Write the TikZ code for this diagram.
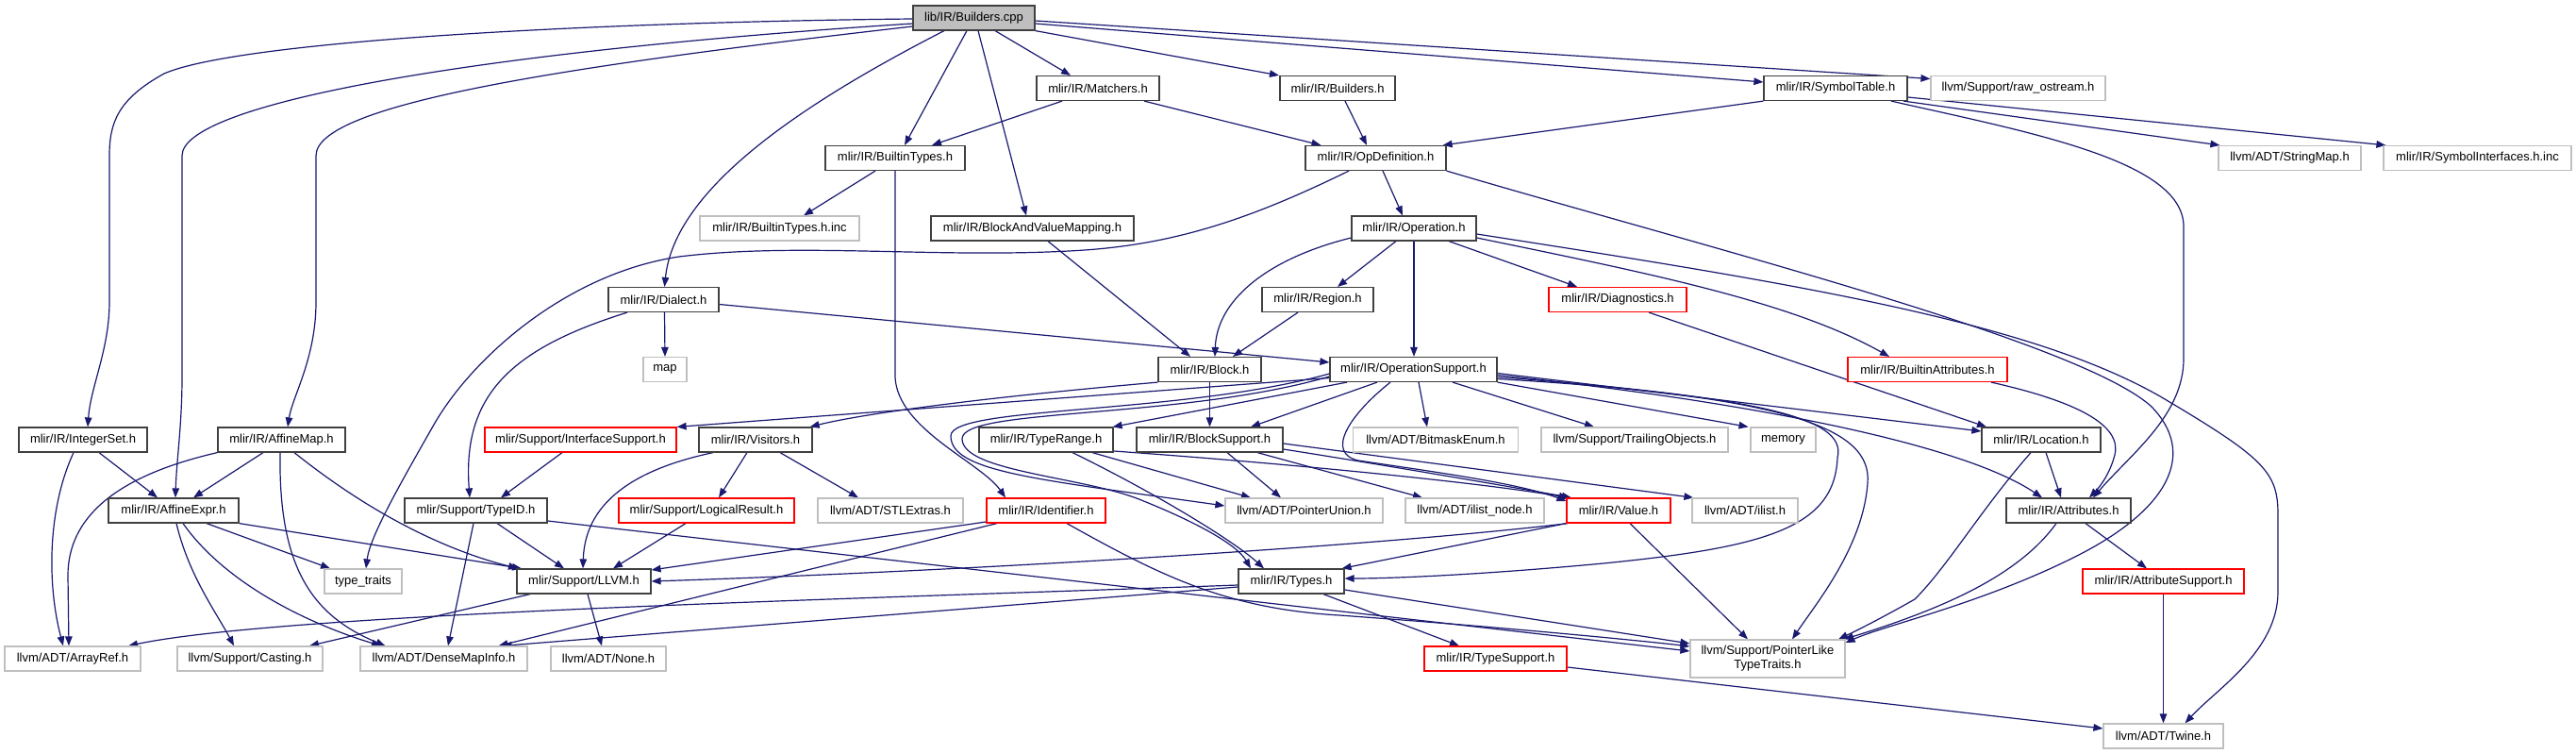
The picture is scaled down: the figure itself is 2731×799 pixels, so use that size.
\documentclass[tikz,border=0pt]{standalone}
\usepackage{fontspec}
\setmainfont{Liberation Sans}
\usetikzlibrary{arrows.meta}
\definecolor{edgeblue}{HTML}{191970}
\definecolor{nodeblack}{HTML}{404040}
\definecolor{nodegray}{HTML}{BFBFBF}
\definecolor{nodered}{HTML}{FF0000}
\definecolor{rootgray}{HTML}{BFBFBF}
\newcommand\dxfont{\fontsize{13}{15}\selectfont}
\pgfdeclarelayer{bg}
\pgfsetlayers{bg,main}
\tikzset{
  nbase/.style={rectangle, inner sep=0pt, minimum height=26pt, font=\dxfont, text=black, line width=1.2pt, fill=white},
  nb/.style={nbase, draw=nodeblack},
  ng/.style={nbase, draw=nodegray},
  nr/.style={nbase, draw=nodered},
  rootnode/.style={nbase, draw=nodeblack, fill=rootgray},
  e/.style={draw=edgeblue, line width=1.2pt, -{Triangle[length=10pt,width=7.5pt]}},
}
\begin{document}
\begin{tikzpicture}[x=1pt,y=-1pt]
\useasboundingbox (0,0) rectangle (2731,799);
% nodes
\node[rootnode, minimum width=129pt] (cpp) at (1032.5,19) {lib/IR/Builders.cpp};
\node[nb, minimum width=130pt] (matchers) at (1164,93.5) {mlir/IR/Matchers.h};
\node[nb, minimum width=122pt] (buildersh) at (1418,93.5) {mlir/IR/Builders.h};
\node[nb, minimum width=152pt] (symtab) at (1946,93.5) {mlir/IR/SymbolTable.h};
\node[ng, minimum width=185pt] (rawos) at (2139.5,93.5) {llvm/Support/raw\_ostream.h};
\node[nb, minimum width=148pt] (bt) at (949,167.5) {mlir/IR/BuiltinTypes.h};
\node[nb, minimum width=149pt] (opdef) at (1458.5,167.5) {mlir/IR/OpDefinition.h};
\node[ng, minimum width=151pt] (strmap) at (2427.5,167.5) {llvm/ADT/StringMap.h};
\node[ng, minimum width=199pt] (syminc) at (2626.5,167.5) {mlir/IR/SymbolInterfaces.h.inc};
\node[ng, minimum width=169pt] (btinc) at (826.5,242) {mlir/IR/BuiltinTypes.h.inc};
\node[nb, minimum width=215pt] (bavm) at (1094.5,242) {mlir/IR/BlockAndValueMapping.h};
\node[nb, minimum width=132pt] (operation) at (1499,242) {mlir/IR/Operation.h};
\node[nb, minimum width=117pt] (dialect) at (703.5,317.5) {mlir/IR/Dialect.h};
\node[nb, minimum width=118pt] (region) at (1397,317.5) {mlir/IR/Region.h};
\node[nr, minimum width=146pt] (diag) at (1715,317.5) {mlir/IR/Diagnostics.h};
\node[ng, minimum width=46pt] (map) at (705,391.5) {map};
\node[nb, minimum width=109pt] (block) at (1282.5,391.5) {mlir/IR/Block.h};
\node[nb, minimum width=177pt] (opsup) at (1498.5,391.5) {mlir/IR/OperationSupport.h};
\node[nr, minimum width=169pt] (battr) at (2043.5,391.5) {mlir/IR/BuiltinAttributes.h};
\node[nb, minimum width=136pt] (intset) at (88,466) {mlir/IR/IntegerSet.h};
\node[nb, minimum width=135pt] (affmap) at (298.5,466) {mlir/IR/AffineMap.h};
\node[nr, minimum width=203pt] (ifsup) at (615.5,466) {mlir/Support/InterfaceSupport.h};
\node[nb, minimum width=120pt] (visitors) at (801,466) {mlir/IR/Visitors.h};
\node[nb, minimum width=142pt] (typerange) at (1109,466) {mlir/IR/TypeRange.h};
\node[nb, minimum width=155pt] (blocksup) at (1282.5,466) {mlir/IR/BlockSupport.h};
\node[ng, minimum width=175pt] (bitmask) at (1522,466) {llvm/ADT/BitmaskEnum.h};
\node[ng, minimum width=198pt] (trailing) at (1733,466) {llvm/Support/TrailingObjects.h};
\node[ng, minimum width=69pt] (memory) at (1890.5,466) {memory};
\node[nb, minimum width=126pt] (location) at (2164,466) {mlir/IR/Location.h};
\node[nb, minimum width=138pt] (affexpr) at (184,541) {mlir/IR/AffineExpr.h};
\node[nb, minimum width=151pt] (typeid) at (504.5,541) {mlir/Support/TypeID.h};
\node[nr, minimum width=186pt] (logres) at (749,541) {mlir/Support/LogicalResult.h};
\node[ng, minimum width=154pt] (stl) at (944,541) {llvm/ADT/STLExtras.h};
\node[nr, minimum width=126pt] (ident) at (1109,541) {mlir/IR/Identifier.h};
\node[ng, minimum width=167pt] (ptrunion) at (1382.5,541) {llvm/ADT/PointerUnion.h};
\node[ng, minimum width=147pt] (ilistnode) at (1563.5,541) {llvm/ADT/ilist\_node.h};
\node[nr, minimum width=110pt] (value) at (1716,541) {mlir/IR/Value.h};
\node[ng, minimum width=112pt] (ilist) at (1850,541) {llvm/ADT/ilist.h};
\node[nb, minimum width=132pt] (attrs) at (2193,541) {mlir/IR/Attributes.h};
\node[ng, minimum width=82pt] (typetraits) at (385,616) {type\_traits};
\node[nb, minimum width=142pt] (llvm) at (619,616) {mlir/Support/LLVM.h};
\node[nb, minimum width=112pt] (types) at (1369,616) {mlir/IR/Types.h};
\node[nr, minimum width=171pt] (attrsup) at (2293.5,616) {mlir/IR/AttributeSupport.h};
\node[ng, minimum width=144pt] (arrayref) at (77,698) {llvm/ADT/ArrayRef.h};
\node[ng, minimum width=154pt] (casting) at (265,698) {llvm/Support/Casting.h};
\node[ng, minimum width=177pt] (densemap) at (470.5,698) {llvm/ADT/DenseMapInfo.h};
\node[ng, minimum width=122pt] (none) at (645,698) {llvm/ADT/None.h};
\node[nr, minimum width=151pt] (typesup) at (1585.5,698) {mlir/IR/TypeSupport.h};
\node[ng, minimum width=164pt, minimum height=40pt, align=center] (pltt) at (1874,698) {llvm/Support/PointerLike\\TypeTraits.h};
\node[ng, minimum width=127pt] (twine) at (2293.5,780) {llvm/ADT/Twine.h};

\begin{pgfonlayer}{bg}
\fill[white] (0,0) rectangle (2731,799);
% Builders.cpp
\draw[e] ([yshift=-1pt]cpp.west) .. controls (600,24) and (250,45) .. (174,78) .. controls (125,105) and (116,130) .. (116,165) -- (116,320) .. controls (116,370) and (96,410) .. ([xshift=5pt]intset.north);
\draw[e] ([yshift=-6pt]cpp.west) .. controls (500,55) and (193,110) .. (193,165) -- (193,400) .. controls (193,450) and (187,490) .. ([xshift=2pt]affexpr.north);
\draw[e] ([yshift=-9pt]cpp.west) .. controls (600,70) and (335,110) .. (335,165) -- (335,320) .. controls (335,380) and (310,420) .. ([xshift=6.5pt]affmap.north);
\draw[e] ([xshift=-31.5pt]cpp.south) .. controls (850,110) and (715,200) .. ([xshift=1pt]dialect.north);
\draw[e] ([xshift=-7.5pt]cpp.south) -- ([xshift=10pt]bt.north);
\draw[e] ([xshift=4.5pt]cpp.south) -- ([xshift=-6.5pt]bavm.north);
\draw[e] ([xshift=22.5pt]cpp.south) -- ([xshift=-29pt]matchers.north);
\draw[e] (cpp.south east) -- ([xshift=-62pt]buildersh.north);
\draw[e] ([yshift=-6pt]cpp.east) -- ([yshift=6.5pt]symtab.west);
\draw[e] ([yshift=-3pt]cpp.east) -- ([yshift=10pt]rawos.west);
% Matchers, Builders.h, SymbolTable
\draw[e] ([xshift=-38pt]matchers.south) -- ([xshift=39pt]bt.north);
\draw[e] ([xshift=49pt]matchers.south) -- ([xshift=-58pt]opdef.north);
\draw[e] ([xshift=8pt]buildersh.south) -- ([xshift=-9.5pt]opdef.north);
\draw[e] (symtab.south west) -- ([xshift=-4pt]opdef.north east);
\draw[e] ([xshift=72pt]symtab.south) -- ([xshift=2pt]strmap.north west);
\draw[e] ([yshift=-9.5pt]symtab.east) -- ([xshift=3pt]syminc.north west);
\draw[e] ([xshift=59pt]symtab.south) .. controls (2150,140) and (2315,170) .. (2315,240) -- (2315,380) .. controls (2315,440) and (2260,480) .. ([xshift=26pt]attrs.north);
% BuiltinTypes
\draw[e] ([xshift=-21pt]bt.south) -- ([xshift=25.5pt]btinc.north);
\draw[e] (bt.south) -- (949,400) .. controls (952,455) and (1040,490) .. ([xshift=-43pt]ident.north);
% BlockAndValueMapping
\draw[e] ([xshift=16.5pt]bavm.south) -- ([xshift=-20.5pt]block.north);
% OpDefinition
\draw[e] ([xshift=7.5pt]opdef.south) -- ([xshift=-12pt]operation.north);
\draw[e] ([xshift=-28.5pt]opdef.south) .. controls (1330,230) and (1250,258) .. (1150,265) .. controls (1000,275) and (850,256) .. (720,272) .. controls (600,290) and (500,380) .. (460,450) .. controls (420,520) and (392,570) .. ([xshift=3pt]typetraits.north);
\draw[e] (opdef.south east) .. controls (1800,260) and (2200,360) .. (2280,430) .. controls (2330,480) and (2300,540) .. (2200,590) .. controls (2100,640) and (2000,662) .. ([yshift=17pt]pltt.east);
% Operation
\draw[e] ([yshift=-10pt]operation.west) .. controls (1340,275) and (1290,320) .. ([xshift=5.5pt]block.north);
\draw[e] ([xshift=-19pt]operation.south) -- ([xshift=21pt]region.north);
\draw[e] (operation.south) -- ([xshift=0.5pt]opsup.north);
\draw[e] ([xshift=37pt]operation.south) -- ([xshift=-43pt]diag.north);
\draw[e] ([yshift=-10pt]operation.east) .. controls (1750,290) and (1900,320) .. ([xshift=-40.5pt]battr.north);
\draw[e] ([yshift=-6pt]operation.east) .. controls (1900,300) and (2150,340) .. (2290,420) .. controls (2400,485) and (2415,500) .. (2415,545) -- (2415,627) .. controls (2415,690) and (2350,730) .. ([xshift=23pt]twine.north);
% Region, Diagnostics, Dialect
\draw[e] ([xshift=-21pt]region.south) -- ([xshift=24.5pt]block.north);
\draw[e] ([xshift=33pt]diag.south) -- ([xshift=-58pt]location.north);
\draw[e] ([xshift=1pt]dialect.south) -- (map.north);
\draw[e] ([yshift=-5pt]dialect.east) -- ([yshift=7.5pt]opsup.west);
\draw[e] ([xshift=-38.5pt]dialect.south) .. controls (540,370) and (490,420) .. ([xshift=-6.5pt]typeid.north);
% Block
\draw[e] (block.south) -- (blocksup.north);
\draw[e] (block.south west) .. controls (1000,425) and (900,442) .. ([xshift=-3pt]visitors.north east);
% OperationSupport
\draw[e] ([yshift=-9pt]opsup.west) -- (ifsup.north east);
\draw[e] ([yshift=-4.5pt]opsup.west) .. controls (1250,440) and (1008,430) .. (1008,462) .. controls (1008,500) and (1100,508) .. ([yshift=5pt]ptrunion.west);
\draw[e] ([yshift=-7.5pt]opsup.west) .. controls (1250,445) and (1020,432) .. (1020,465) .. controls (1020,500) and (1150,505) .. (1210,530) .. controls (1260,550) and (1310,575) .. ([xshift=-43pt]types.north);
\draw[e] ([xshift=-70.5pt]opsup.south) -- ([xshift=-1pt]typerange.north east);
\draw[e] ([xshift=-38.5pt]opsup.south) -- ([xshift=43.5pt]blocksup.north);
\draw[e] ([xshift=-24.5pt]opsup.south) .. controls (1430,440) and (1405,480) .. (1440,488) .. controls (1520,500) and (1610,512) .. ([yshift=10pt]value.west);
\draw[e] ([xshift=5.5pt]opsup.south) -- ([xshift=-9pt]bitmask.north);
\draw[e] ([xshift=41.5pt]opsup.south) -- ([xshift=-43pt]trailing.north);
\draw[e] (opsup.south east) -- ([xshift=-37pt]memory.north);
\draw[e] ([yshift=-4pt]opsup.east) -- ([yshift=9pt]location.west);
\draw[e] ([yshift=-6pt]opsup.east) .. controls (1850,425) and (2080,470) .. ([xshift=-28pt]attrs.north);
\draw[e] ([yshift=-8pt]opsup.east) .. controls (1850,420) and (1960,440) .. (1948,485) .. controls (1945,560) and (1870,580) .. (1700,597) .. controls (1560,610) and (1470,613) .. ([yshift=3pt]types.east);
\draw[e] ([yshift=-10pt]opsup.east) .. controls (1900,420) and (1985,455) .. (1980,512) .. controls (1975,580) and (1925,640) .. ([xshift=26pt]pltt.north);
% BlockSupport
\draw[e] ([yshift=-4pt]blocksup.east) -- ([xshift=2pt]ilist.north west);
\draw[e] ([yshift=-10pt]blocksup.east) .. controls (1450,490) and (1580,512) .. ([xshift=-50pt]value.north);
\draw[e] ([xshift=50.5pt]blocksup.south) -- ([xshift=-55.5pt]ilistnode.north);
\draw[e] ([xshift=18.5pt]blocksup.south) -- ([xshift=-24.5pt]ptrunion.north);
% TypeRange
\draw[e] ([yshift=-12pt]typerange.east) .. controls (1350,490) and (1560,510) .. ([xshift=-53pt]value.north);
\draw[e] ([xshift=49pt]typerange.south) -- ([xshift=-56.5pt]ptrunion.north);
\draw[e] ([xshift=28pt]typerange.south) .. controls (1230,525) and (1310,575) .. ([xshift=-29pt]types.north);
% Value
\draw[e] (value.south west) -- ([xshift=-3pt]types.north east);
\draw[e] ([xshift=2pt]value.south west) .. controls (1450,580) and (1000,606) .. (llvm.east);
\draw[e] ([xshift=12pt]value.south) -- ([xshift=-21pt]pltt.north);
% Visitors, InterfaceSupport, LogicalResult, TypeID
\draw[e] ([xshift=-45pt]visitors.south) .. controls (660,500) and (620,540) .. ([xshift=-1pt]llvm.north);
\draw[e] ([xshift=-9pt]visitors.south) -- ([xshift=13pt]logres.north);
\draw[e] ([xshift=26pt]visitors.south) -- ([xshift=-34pt]stl.north);
\draw[e] ([xshift=-19.5pt]ifsup.south) -- ([xshift=26.5pt]typeid.north);
\draw[e] ([xshift=-22pt]logres.south) -- ([xshift=31pt]llvm.north);
\draw[e] ([xshift=22.5pt]typeid.south) -- ([xshift=-21pt]llvm.north);
\draw[e] ([xshift=-2.5pt]typeid.south) -- ([xshift=4.5pt]densemap.north);
\draw[e] ([yshift=-11pt]typeid.east) -- ([yshift=8pt]pltt.west);
% Identifier
\draw[e] ([yshift=-12pt]ident.west) -- ([yshift=12pt]llvm.east);
\draw[e] ([xshift=-52pt]ident.south) -- ([xshift=58pt]densemap.north);
\draw[e] ([xshift=22pt]ident.south) .. controls (1230,610) and (1300,645) .. (1420,652) .. controls (1600,665) and (1750,680) .. ([yshift=13pt]pltt.west);
% Types
\draw[e] ([yshift=-4pt]types.west) .. controls (900,635) and (300,650) .. ([xshift=59pt]arrayref.north);
\draw[e] ([yshift=-6pt]types.west) -- ([xshift=62pt]densemap.north);
\draw[e] ([yshift=-9pt]types.east) -- ([yshift=16pt]pltt.west);
\draw[e] ([xshift=34pt]types.south) -- ([xshift=-38.5pt]typesup.north);
\draw[e] ([yshift=-9pt]typesup.east) -- ([yshift=8pt]twine.west);
% Location, Attributes, BuiltinAttributes, AttributeSupport
\draw[e] ([xshift=5pt]location.south) -- ([xshift=-8pt]attrs.north);
\draw[e] ([xshift=-11pt]location.south) .. controls (2100,540) and (2065,600) .. (2030,635) .. controls (2000,652) and (1975,665) .. ([xshift=75pt]pltt.north);
\draw[e] ([xshift=18pt]attrs.south) -- ([xshift=-17.5pt]attrsup.north);
\draw[e] ([xshift=-13pt]attrs.south) .. controls (2140,610) and (2060,645) .. ([xshift=81pt]pltt.north);
\draw[e] (attrsup.south) -- (twine.north);
\draw[e] ([xshift=67.5pt]battr.south) .. controls (2200,425) and (2250,450) .. (2242,482) .. controls (2236,505) and (2224,518) .. ([xshift=22pt]attrs.north);
% LLVM, AffineExpr, AffineMap, IntegerSet
\draw[e] ([xshift=-57pt]llvm.south) -- ([xshift=63pt]casting.north);
\draw[e] ([xshift=4pt]llvm.south) -- ([xshift=-7pt]none.north);
\draw[e] ([xshift=35pt]affexpr.south) -- ([xshift=-35pt]typetraits.north);
\draw[e] (affexpr.south east) -- ([xshift=-66pt]llvm.north);
\draw[e] ([xshift=3pt]affexpr.south) .. controls (200,610) and (230,650) .. ([xshift=-17pt]casting.north);
\draw[e] ([xshift=10pt]affexpr.south) .. controls (240,620) and (330,662) .. ([xshift=-66.5pt]densemap.north);
\draw[e] ([xshift=-19.5pt]affmap.south) -- ([xshift=21pt]affexpr.north);
\draw[e] (affmap.south west) .. controls (120,505) and (72,550) .. (72,610) -- ([xshift=-4pt]arrayref.north);
\draw[e] ([xshift=-1.5pt]affmap.south) .. controls (295,600) and (330,652) .. ([xshift=-62pt]densemap.north);
\draw[e] ([xshift=13.5pt]affmap.south) .. controls (400,550) and (480,585) .. ([xshift=-70pt]llvm.north);
\draw[e] ([xshift=17pt]intset.south) -- ([xshift=-17pt]affexpr.north);
\draw[e] ([xshift=-10pt]intset.south) .. controls (50,540) and (50,620) .. ([xshift=-10pt]arrayref.north);
\end{pgfonlayer}
\end{tikzpicture}
\end{document}
